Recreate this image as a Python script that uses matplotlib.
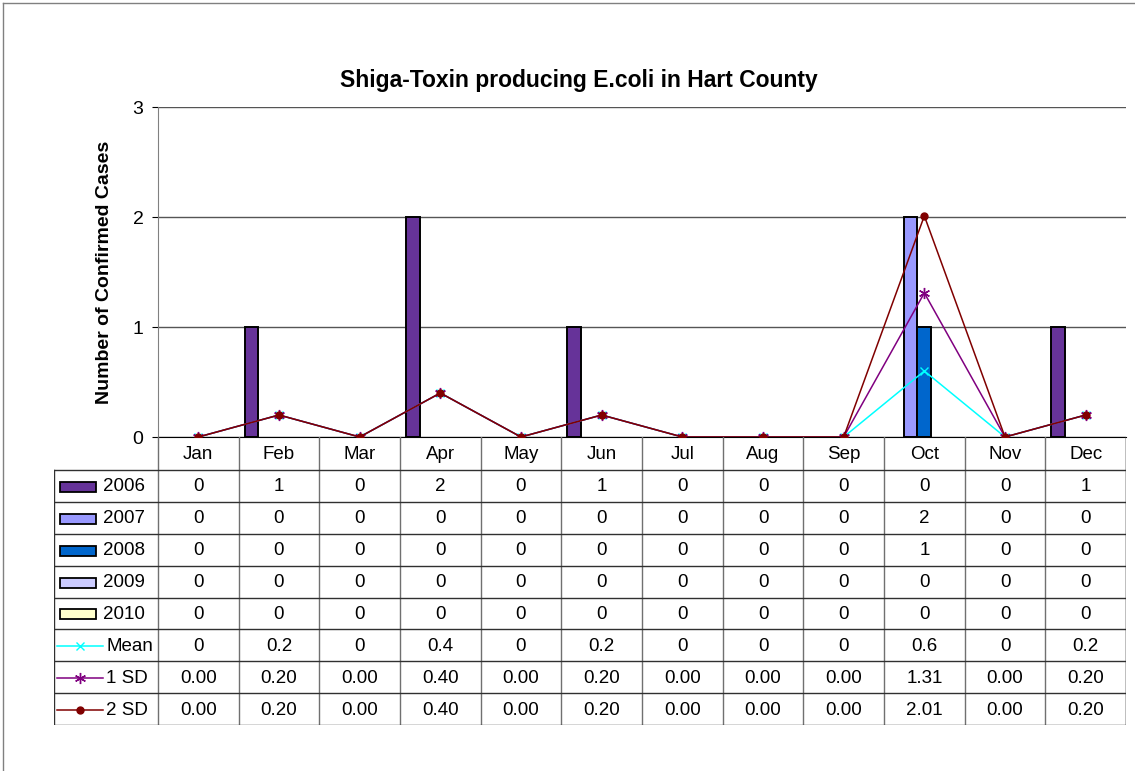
import matplotlib.pyplot as plt
from matplotlib.patches import Rectangle
from matplotlib.lines import Line2D
import numpy as np

plt.rcParams['font.family'] = ['Liberation Sans', 'DejaVu Sans']

# Datos
# ========================================
months = ['Jan', 'Feb', 'Mar', 'Apr', 'May', 'Jun', 'Jul', 'Aug', 'Sep', 'Oct', 'Nov', 'Dec']
years = ['2006', '2007', '2008', '2009', '2010']
cases_2006 = [0, 1, 0, 2, 0, 1, 0, 0, 0, 0, 0, 1]
cases_2007 = [0, 0, 0, 0, 0, 0, 0, 0, 0, 2, 0, 0]
cases_2008 = [0, 0, 0, 0, 0, 0, 0, 0, 0, 1, 0, 0]
cases_2009 = [0, 0, 0, 0, 0, 0, 0, 0, 0, 0, 0, 0]
cases_2010 = [0, 0, 0, 0, 0, 0, 0, 0, 0, 0, 0, 0]
mean = [0, 0.2, 0, 0.4, 0, 0.2, 0, 0, 0, 0.6, 0, 0.2]
sd1 = [0.00, 0.20, 0.00, 0.40, 0.00, 0.20, 0.00, 0.00, 0.00, 1.31, 0.00, 0.20]
sd2 = [0.00, 0.20, 0.00, 0.40, 0.00, 0.20, 0.00, 0.00, 0.00, 2.01, 0.00, 0.20]

bar_series = [cases_2006, cases_2007, cases_2008, cases_2009, cases_2010]
bar_colors = ['#663399', '#9999FF', '#0066CC', '#CCCCFF', '#FFFFCC']

# estilo de las series de línea: color, marcador, tamaño
star = (6, 2, 0)
line_styles = [('#00FFFF', 'x', 6), ('#800080', star, 8), ('#800000', 'o', 5)]

# Geometría (en píxeles de la imagen 1135x771)
W, H = 1135, 771
px_left, px_right = 158, 1126
px_top, px_zero = 107, 437
tab_left, tab_bottom, head_bottom = 54, 725, 470

fig = plt.figure(figsize=(W / 100, H / 100), dpi=100)

def fx(p):
    return p / W

def fy(p):
    return 1 - p / H

# Gráfico principal
# ========================================
ax = fig.add_axes([fx(px_left), fy(px_zero), fx(px_right - px_left), (px_zero - px_top) / H])
x = np.arange(len(months))
w = 0.17
for i, (vals, col) in enumerate(zip(bar_series, bar_colors)):
    vals = np.array(vals, dtype=float)
    nz = vals > 0
    ax.bar(x[nz] + (i - 2) * w, vals[nz], width=w, color=col, edgecolor='black',
           linewidth=1.4, zorder=3)

for vals, (col, mk, ms) in zip([mean, sd1, sd2], line_styles):
    ax.plot(x, vals, color=col, marker=mk, markersize=ms, linewidth=1.1, zorder=4)

ax.set_xlim(-0.5, 11.5)
ax.set_ylim(0, 3)
ax.set_yticks([0, 1, 2, 3])
ax.set_yticklabels(['0', '1', '2', '3'], fontsize=14)
ax.set_xticks([])
ax.grid(axis='y', color='#555555', linewidth=1, zorder=0)
for s in ['top', 'right']:
    ax.spines[s].set_visible(False)
ax.spines['left'].set_color('#808080')
ax.spines['bottom'].set_color('black')
ax.tick_params(axis='y', length=4.5, color='black', pad=6)
ax.set_ylabel('Number of Confirmed Cases', fontsize=14, fontweight='bold', labelpad=14)

fig.text(fx(579), fy(80), 'Shiga-Toxin producing E.coli in Hart County',
         fontsize=16.5, fontweight='bold', ha='center', va='center')

# Tabla de datos
# ========================================
unit = (px_right - px_left) / 12.0
tx0 = -0.5 - (px_left - tab_left) / unit
tab = fig.add_axes([fx(tab_left), fy(tab_bottom), fx(px_right - tab_left), (tab_bottom - px_zero) / H])
tab.set_xlim(tx0, 11.5)
tab.set_ylim(tab_bottom, px_zero)
tab.axis('off')

nrows = 8
row_h = (tab_bottom - head_bottom) / nrows
lc = '#303030'
fs = 13.5

# lineas de la tabla
for k in range(13):
    tab.plot([k - 0.5, k - 0.5], [px_zero, tab_bottom], color='#707070', linewidth=1)
tab.plot([tx0, tx0], [head_bottom, tab_bottom], color=lc, linewidth=1)
tab.plot([11.5, 11.5], [px_zero, tab_bottom], color=lc, linewidth=1)
for r in range(nrows + 1):
    tab.plot([tx0, 11.5], [head_bottom + r * row_h] * 2, color=lc, linewidth=1)

for j, m in enumerate(months):
    tab.text(j, (px_zero + head_bottom) / 2 + 1, m, ha='center', va='center', fontsize=fs)

row_labels = years + ['Mean', '1 SD', '2 SD']
row_values = []
for vals in bar_series:
    row_values.append([str(v) for v in vals])
row_values.append([('%g' % v) for v in mean])
row_values.append([('%.2f' % v) for v in sd1])
row_values.append([('%.2f' % v) for v in sd2])

key_x0 = tx0 + 3 / unit
key_x1 = tx0 + 49 / unit
for r, (lab, vals) in enumerate(zip(row_labels, row_values)):
    yc = head_bottom + (r + 0.5) * row_h + 1
    if r < 5:
        tab.add_patch(Rectangle((tx0 + 6 / unit, yc - 5), 36 / unit, 10,
                                facecolor=bar_colors[r], edgecolor='black', linewidth=1.3))
        tab.text(tx0 + 49 / unit, yc, lab, ha='left', va='center', fontsize=fs)
    else:
        col, mk, ms = line_styles[r - 5]
        tab.add_line(Line2D([key_x0, key_x1], [yc, yc], color=col, linewidth=1.1))
        tab.add_line(Line2D([(key_x0 + key_x1) / 2], [yc], color=col, marker=mk,
                            markersize=ms, linestyle='none'))
        tab.text(tx0 + 52 / unit, yc, lab, ha='left', va='center', fontsize=fs)
    for j, v in enumerate(vals):
        tab.text(j, yc, v, ha='center', va='center', fontsize=fs)

# Borde exterior del gráfico
fig.add_artist(Line2D([fx(3), fx(3)], [fy(3), 0], color='#808080', linewidth=1))
fig.add_artist(Line2D([fx(3), 1], [fy(3), fy(3)], color='#808080', linewidth=1))

plt.savefig('out.png', dpi=100)
plt.close()
